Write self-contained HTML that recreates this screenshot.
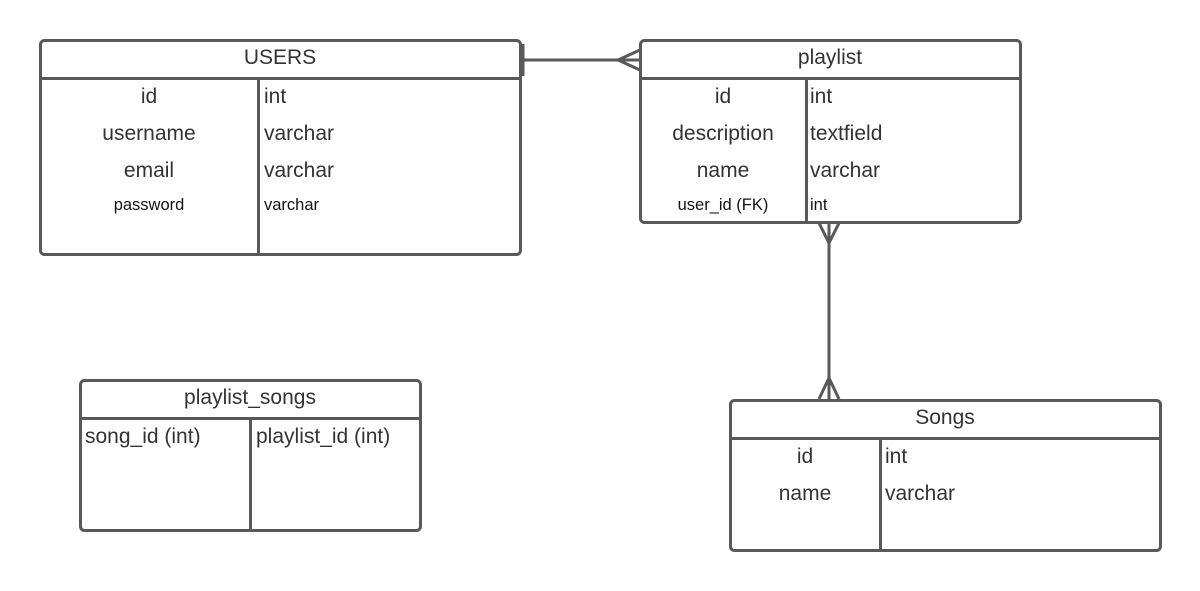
<!DOCTYPE html>
<html><head><meta charset="utf-8"><style>
html,body{margin:0;padding:0;background:#fff;}
svg{display:block;}
text{font-family:"Liberation Sans",Arial,sans-serif;fill:#333;font-size:21px;}
.s{font-size:16.5px;fill:#111;}
</style></head><body>
<svg width="1200" height="591" viewBox="0 0 1200 591">
<g fill="none" stroke="#595959" stroke-width="3">
<rect x="40.5" y="40.5" width="480" height="214" rx="4"/>
<line x1="40" y1="78.5" x2="520" y2="78.5"/>
<line x1="258.5" y1="78" x2="258.5" y2="254"/>
<rect x="640.5" y="40.5" width="380" height="182" rx="4"/>
<line x1="640" y1="78.5" x2="1020" y2="78.5"/>
<line x1="806.5" y1="78" x2="806.5" y2="222"/>
<rect x="80.5" y="380.5" width="340" height="150" rx="4"/>
<line x1="80" y1="418.5" x2="420" y2="418.5"/>
<line x1="250.5" y1="418" x2="250.5" y2="530"/>
<rect x="730.5" y="400.5" width="430" height="150" rx="4"/>
<line x1="730" y1="438.5" x2="1160" y2="438.5"/>
<line x1="880.5" y1="438" x2="880.5" y2="550"/>
<line x1="522" y1="60" x2="640" y2="60"/>
<line x1="523" y1="44" x2="523" y2="76"/>
<polyline points="640,50 618,60 640,70"/>
<line x1="829" y1="222" x2="829" y2="400"/>
<polyline points="819,223 829,243 839,223"/>
<polyline points="819,399 829,378 839,399"/>
</g>
<g text-anchor="middle">
<text x="280" y="64">USERS</text>
<text x="149" y="103">id</text>
<text x="149" y="140">username</text>
<text x="149" y="177">email</text>
<text class="s" x="149" y="210">password</text>
<text x="830" y="64">playlist</text>
<text x="723" y="103">id</text>
<text x="723" y="140">description</text>
<text x="723" y="177">name</text>
<text class="s" x="723" y="210">user_id (FK)</text>
<text x="250" y="404">playlist_songs</text>
<text x="945" y="424">Songs</text>
<text x="805" y="463">id</text>
<text x="805" y="500">name</text>
</g>
<text x="264" y="103">int</text>
<text x="264" y="140">varchar</text>
<text x="264" y="177">varchar</text>
<text class="s" x="264" y="210">varchar</text>
<text x="810" y="103">int</text>
<text x="810" y="140">textfield</text>
<text x="810" y="177">varchar</text>
<text class="s" x="810" y="210">int</text>
<text x="85" y="443">song_id (int)</text>
<text x="256" y="443">playlist_id (int)</text>
<text x="885" y="463">int</text>
<text x="885" y="500">varchar</text>
</svg>
</body></html>
